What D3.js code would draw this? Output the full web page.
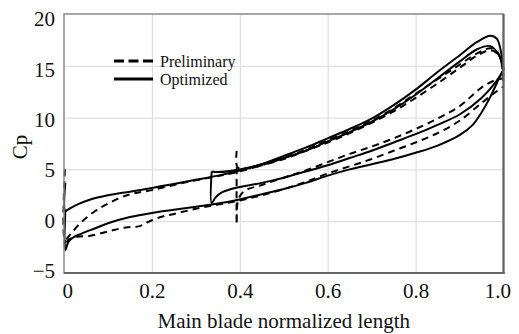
<!DOCTYPE html>
<html><head><meta charset="utf-8">
<script src="https://cdn.jsdelivr.net/npm/d3@7"></script>
<style>
html,body{margin:0;padding:0;background:#fff;}
svg{display:block;}
text{font-family:"Liberation Serif","Times New Roman",serif;fill:#111;}
</style></head>
<body><svg id="c" width="519" height="334"></svg>
<script>
// ---- data ----
const xTicks = [0, 0.2, 0.4, 0.6, 0.8, 1.0];
const xTickLabels = ["0", "0.2", "0.4", "0.6", "0.8", "1.0"];
const yTicks = [-5, 0, 5, 10, 15, 20];
const seriesNames = ["Preliminary", "Optimized"];

// Optimized (solid)
const optMainUpper = [[0.003,3.7],[0.003,1.0],[0.01,1.15],[0.03,1.6],[0.06,2.1],[0.1,2.5],[0.15,2.85],[0.2,3.2],[0.25,3.6],[0.3,4.0],[0.35,4.4],[0.4,4.9],[0.45,5.5],[0.5,6.3],[0.55,7.1],[0.6,8.0],[0.65,8.9],[0.7,9.9],[0.75,11.2],[0.8,12.7],[0.85,14.4],[0.9,16.0],[0.94,17.3],[0.97,17.9],[0.985,17.6],[0.995,16.2],[1.0,14.6]];
const optMainLower = [[0.003,1.0],[0.003,-2.8],[0.01,-2.0],[0.02,-1.6],[0.04,-1.2],[0.07,-0.7],[0.1,-0.2],[0.15,0.4],[0.2,0.8],[0.25,1.1],[0.3,1.4],[0.35,1.7],[0.4,2.1],[0.45,2.6],[0.5,3.1],[0.55,3.7],[0.6,4.4],[0.65,5.0],[0.7,5.5],[0.75,6.0],[0.8,6.6],[0.85,7.3],[0.9,8.3],[0.93,9.3],[0.95,10.5],[0.97,12.0],[0.99,13.8],[1.0,14.6]];
const optSplitUpper = [[0.336,4.8],[0.35,4.75],[0.4,5.0],[0.45,5.5],[0.5,6.1],[0.55,6.8],[0.6,7.7],[0.65,8.6],[0.7,9.6],[0.75,10.8],[0.8,12.2],[0.85,13.8],[0.9,15.4],[0.94,16.6],[0.97,16.9],[0.99,16.0],[1.0,14.6]];
const optSplitLower = [[0.336,4.8],[0.336,1.75],[0.345,2.3],[0.36,2.8],[0.38,3.1],[0.4,3.3],[0.45,3.7],[0.5,4.2],[0.55,4.8],[0.6,5.4],[0.65,6.1],[0.7,6.8],[0.75,7.6],[0.8,8.4],[0.85,9.3],[0.9,10.3],[0.95,11.9],[0.98,13.3],[1.0,14.6]];

// Preliminary (dashed)
const preMainUpper = [[0.002,5.0],[0.002,-1.8],[0.008,-1.6],[0.018,-1.1],[0.03,-0.5],[0.05,0.3],[0.075,1.1],[0.1,1.7],[0.13,2.3],[0.16,2.7],[0.2,3.0],[0.25,3.5],[0.3,3.95],[0.35,4.35],[0.39,4.7],[0.45,5.4],[0.5,6.1],[0.55,6.9],[0.6,7.8],[0.65,8.7],[0.7,9.7],[0.75,10.9],[0.8,12.3],[0.85,13.7],[0.9,15.1],[0.94,16.2],[0.97,16.7],[0.985,16.4],[0.995,15.4],[1.0,13.0]];
const preMainLower = [[0.002,-1.8],[0.002,-2.5],[0.01,-1.8],[0.03,-1.5],[0.06,-1.4],[0.1,-1.0],[0.14,-0.6],[0.17,-0.5],[0.19,-0.1],[0.22,0.4],[0.25,0.7],[0.3,1.2],[0.35,1.6],[0.4,2.0],[0.45,2.5],[0.5,3.1],[0.55,3.8],[0.6,4.6],[0.65,5.3],[0.7,6.0],[0.75,6.8],[0.8,7.6],[0.85,8.5],[0.9,9.7],[0.95,11.4],[0.98,12.4],[1.0,13.0]];
const preSplitUpper = [[0.393,6.8],[0.395,5.2],[0.42,5.1],[0.45,5.4],[0.5,6.0],[0.55,6.8],[0.6,7.6],[0.65,8.5],[0.7,9.5],[0.75,10.6],[0.8,11.9],[0.85,13.3],[0.9,14.8],[0.94,16.0],[0.97,16.5],[0.985,16.2],[0.995,15.5],[1.0,13.8]];
const preSplitLower = [[0.393,5.2],[0.393,-0.3],[0.396,2.0],[0.41,2.9],[0.45,3.5],[0.5,4.2],[0.55,4.9],[0.6,5.7],[0.65,6.5],[0.7,7.2],[0.75,8.0],[0.8,8.9],[0.85,9.9],[0.9,11.1],[0.95,12.9],[0.98,13.6],[1.0,13.8]];

// ---- chart ----
const svg = d3.select("#c");
const L = 64, R = 503.5, T = 14, B = 273;
const xs = d3.scaleLinear().domain([0, 1]).range([L, R]);
const ys = d3.scaleLinear().domain([-5, 20]).range([B, T]);

// gridlines
const gx = svg.append("g").attr("transform", `translate(0,${B})`)
  .call(d3.axisBottom(xs).tickValues(xTicks.slice(1, -1)).tickSize(-(B - T)).tickFormat(""));
gx.select(".domain").remove();
gx.selectAll("line").attr("stroke", "#d9d9d9").attr("stroke-width", 1);
const gy = svg.append("g").attr("transform", `translate(${L},0)`)
  .call(d3.axisLeft(ys).tickValues(yTicks.slice(1, -1)).tickSize(-(R - L)).tickFormat(""));
gy.select(".domain").remove();
gy.selectAll("line").attr("stroke", "#d9d9d9").attr("stroke-width", 1);

// curves
const line = d3.line().x(d => xs(d[0])).y(d => ys(d[1])).curve(d3.curveCatmullRom.alpha(0.5));
const curves = [
  {d: preMainUpper, dash: true}, {d: preMainLower, dash: true},
  {d: preSplitUpper, dash: true}, {d: preSplitLower, dash: true},
  {d: optMainUpper, dash: false}, {d: optMainLower, dash: false},
  {d: optSplitUpper, dash: false}, {d: optSplitLower, dash: false}
];
svg.append("g").selectAll("path").data(curves).join("path")
  .attr("d", c => line(c.d))
  .attr("fill", "none")
  .attr("stroke", "#000")
  .attr("stroke-width", 2)
  .attr("stroke-linejoin", "round")
  .attr("stroke-dasharray", c => c.dash ? "7,5" : null);

// frame
svg.append("rect").attr("x", L).attr("y", T).attr("width", R - L).attr("height", B - T)
  .attr("fill", "none").attr("stroke", "#8a8a8a").attr("stroke-width", 1.5);
svg.append("line").attr("x1", R).attr("x2", R).attr("y1", T).attr("y2", B + 1)
  .attr("stroke", "#666").attr("stroke-width", 2.2);
svg.append("line").attr("x1", L).attr("x2", R + 1).attr("y1", B).attr("y2", B)
  .attr("stroke", "#666").attr("stroke-width", 2.2);

// axes labels
const labelShift = d3.scaleLinear().domain([20, -5]).range([5, -2]);
const ay = svg.append("g").attr("transform", `translate(${L},0)`)
  .call(d3.axisLeft(ys).tickValues(yTicks).tickSize(0).tickPadding(9).tickFormat(d3.format("d")));
ay.select(".domain").remove();
ay.selectAll("text").attr("font-size", 21).attr("font-family", '"Liberation Serif","Times New Roman",serif')
  .attr("fill", "#111").attr("dy", d => (0.32 * 21 + labelShift(d)) + "px");

const ax = svg.append("g").attr("transform", `translate(0,${B})`)
  .call(d3.axisBottom(xs).tickValues(xTicks).tickSize(0).tickPadding(10)
    .tickFormat((d, i) => xTickLabels[i]));
ax.select(".domain").remove();
ax.selectAll("text").attr("font-size", 21).attr("font-family", '"Liberation Serif","Times New Roman",serif')
  .attr("fill", "#111")
  .attr("text-anchor", (d, i) => i === 0 ? "start" : (i === xTicks.length - 1 ? "end" : "middle"))
  .attr("dx", (d, i) => i === 0 ? "-2px" : (i === xTicks.length - 1 ? "7px" : "0"));

svg.append("text").attr("x", (L + R) / 2).attr("y", 328).attr("text-anchor", "middle")
  .attr("font-size", 21).text("Main blade normalized length");
svg.append("text").attr("transform", "translate(27,147) rotate(-90)").attr("text-anchor", "middle")
  .attr("font-size", 21).text("Cp");

// legend
const lg = svg.append("g");
const legendRows = [{name: seriesNames[0], dash: true, y: 61}, {name: seriesNames[1], dash: false, y: 79}];
lg.selectAll("line").data(legendRows).join("line")
  .attr("x1", 114).attr("x2", 153).attr("y1", d => d.y).attr("y2", d => d.y)
  .attr("stroke", "#000").attr("stroke-width", 3)
  .attr("stroke-dasharray", d => d.dash ? "10,4.5" : null);
lg.selectAll("text").data(legendRows).join("text")
  .attr("x", 160).attr("y", d => d.y + 5.5).attr("font-size", 16).text(d => d.name);
</script></body></html>
